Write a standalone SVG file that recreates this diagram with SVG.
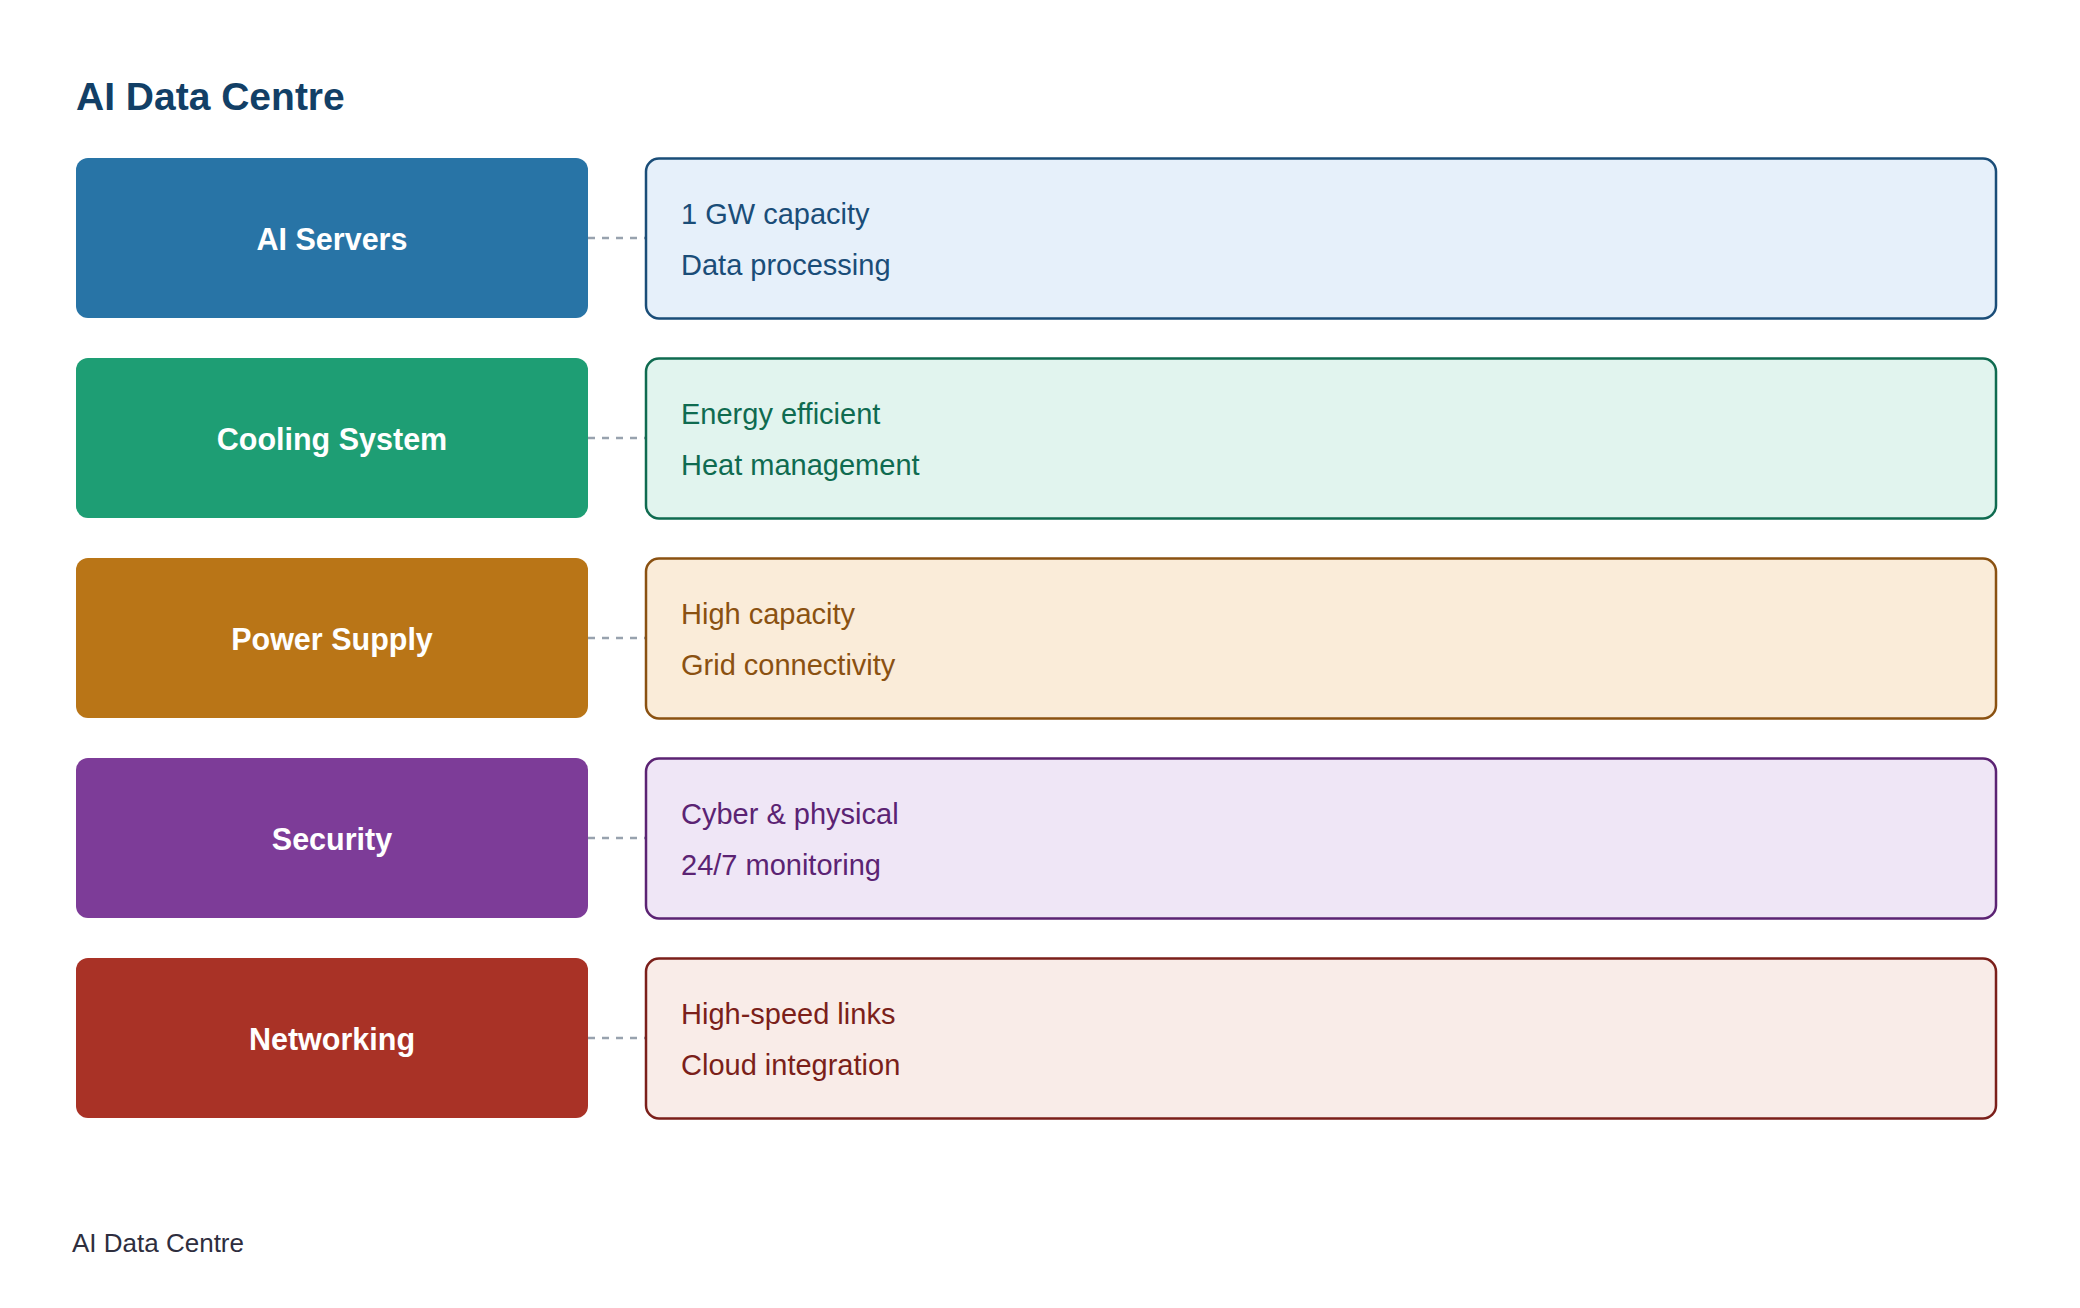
<svg xmlns="http://www.w3.org/2000/svg" width="2080" height="1308" viewBox="0 0 2080 1308">
  <style>
    .title { font-family: "Liberation Sans", Arial, sans-serif; font-size: 39px; font-weight: bold; fill: #123f66; }
    .foot { font-family: "Liberation Sans", Arial, sans-serif; font-size: 26px; fill: #2e2e3e; }
    .lbl { font-family: "Liberation Sans", Arial, sans-serif; font-size: 30.5px; font-weight: bold; fill: #ffffff; text-anchor: middle; }
    .det { font-family: "Liberation Sans", Arial, sans-serif; font-size: 29px; }
    .conn { stroke: #98a2ae; stroke-width: 2.5; stroke-dasharray: 7 7; fill: none; }
    .cat { stroke: none; }
    .info { stroke-width: 2.5; }
  </style>
  <rect width="2080" height="1308" fill="#ffffff"/>
  <text class="title" x="76" y="110">AI Data Centre</text>

  <g id="connectors">
    <line class="conn" x1="588" y1="238" x2="645" y2="238"/>
    <line class="conn" x1="588" y1="438" x2="645" y2="438"/>
    <line class="conn" x1="588" y1="638" x2="645" y2="638"/>
    <line class="conn" x1="588" y1="838" x2="645" y2="838"/>
    <line class="conn" x1="588" y1="1038" x2="645" y2="1038"/>
  </g>

  <g id="ai-servers">
    <rect class="cat" x="76" y="158" width="512" height="160" rx="12" fill="#2874a6"/>
    <text class="lbl" x="332" y="250">AI Servers</text>
  </g>
  <g id="ai-servers-details">
    <rect class="info" x="646" y="158.5" width="1350" height="160" rx="13" fill="#e6f0fa" stroke="#1a4d78"/>
    <text class="det" x="681" y="224" fill="#1a4d78">1 GW capacity</text>
    <text class="det" x="681" y="275" fill="#1a4d78">Data processing</text>
  </g>

  <g id="cooling-system">
    <rect class="cat" x="76" y="358" width="512" height="160" rx="12" fill="#1e9e74"/>
    <text class="lbl" x="332" y="450">Cooling System</text>
  </g>
  <g id="cooling-system-details">
    <rect class="info" x="646" y="358.5" width="1350" height="160" rx="13" fill="#e1f4ee" stroke="#0f6b50"/>
    <text class="det" x="681" y="424" fill="#0f6b50">Energy efficient</text>
    <text class="det" x="681" y="475" fill="#0f6b50">Heat management</text>
  </g>

  <g id="power-supply">
    <rect class="cat" x="76" y="558" width="512" height="160" rx="12" fill="#b97517"/>
    <text class="lbl" x="332" y="650">Power Supply</text>
  </g>
  <g id="power-supply-details">
    <rect class="info" x="646" y="558.5" width="1350" height="160" rx="13" fill="#faecd9" stroke="#8a5111"/>
    <text class="det" x="681" y="624" fill="#8a5111">High capacity</text>
    <text class="det" x="681" y="675" fill="#8a5111">Grid connectivity</text>
  </g>

  <g id="security">
    <rect class="cat" x="76" y="758" width="512" height="160" rx="12" fill="#7d3c98"/>
    <text class="lbl" x="332" y="850">Security</text>
  </g>
  <g id="security-details">
    <rect class="info" x="646" y="758.5" width="1350" height="160" rx="13" fill="#efe6f6" stroke="#5b2373"/>
    <text class="det" x="681" y="824" fill="#5b2373">Cyber &amp; physical</text>
    <text class="det" x="681" y="875" fill="#5b2373">24/7 monitoring</text>
  </g>

  <g id="networking">
    <rect class="cat" x="76" y="958" width="512" height="160" rx="12" fill="#a93226"/>
    <text class="lbl" x="332" y="1050">Networking</text>
  </g>
  <g id="networking-details">
    <rect class="info" x="646" y="958.5" width="1350" height="160" rx="13" fill="#f9ece8" stroke="#7b1f1a"/>
    <text class="det" x="681" y="1024" fill="#7b1f1a">High-speed links</text>
    <text class="det" x="681" y="1075" fill="#7b1f1a">Cloud integration</text>
  </g>

  <text class="foot" x="72" y="1252">AI Data Centre</text>
</svg>
